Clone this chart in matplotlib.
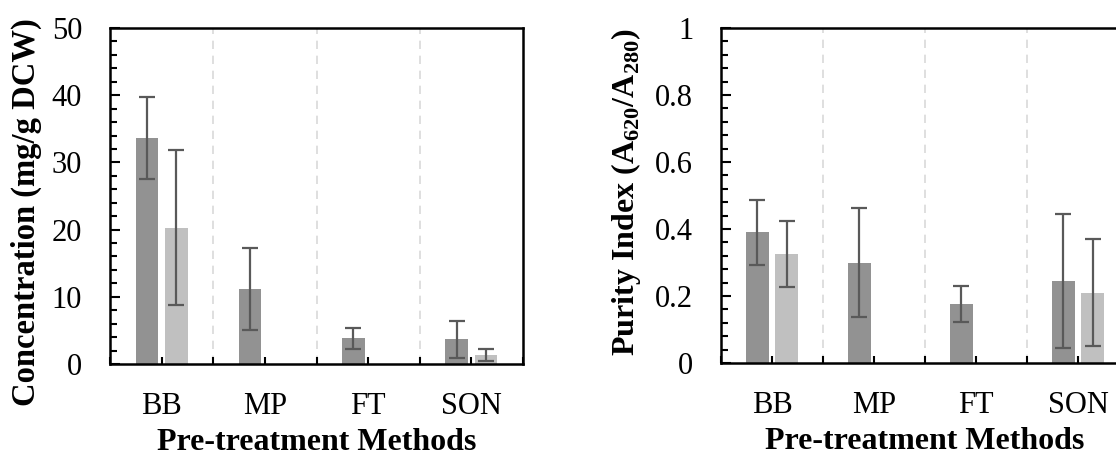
import matplotlib
matplotlib.use("Agg")
import matplotlib.pyplot as plt
import numpy as np
from matplotlib.ticker import MultipleLocator

plt.rcParams['font.family'] = ['Liberation Serif', 'DejaVu Serif']
plt.rcParams['mathtext.fontset'] = 'custom'
plt.rcParams['mathtext.rm'] = 'Liberation Serif'
plt.rcParams['mathtext.bf'] = 'Liberation Serif:bold'

# data
methods = ['BB', 'MP', 'FT', 'SON']
conc_a = [33.7, 11.1, 3.8, 3.7]
conc_a_err = [6.1, 6.1, 1.6, 2.75]
conc_b = [20.3, 0, 0, 1.35]
conc_b_err = [11.5, 0, 0, 0.95]
conc_b_show = [True, False, False, True]

pur_a = [0.391, 0.300, 0.176, 0.245]
pur_a_err = [0.097, 0.162, 0.054, 0.200]
pur_b = [0.325, 0, 0, 0.210]
pur_b_err = [0.099, 0, 0, 0.160]
pur_b_show = [True, False, False, True]

dark = '#929292'
light = '#c0c0c0'
errc = '#595959'

fig = plt.figure(figsize=(11.16, 4.57), dpi=100)
ax1 = fig.add_axes([110/1116, 93/457, 413/1116, 336/457])
ax2 = fig.add_axes([721/1116, 94/457, 408/1116, 335/457])

x = np.arange(len(methods))
w = 0.22
off = 0.143


def draw(ax, a, aerr, b, berr, bshow, ymax, major, minor, ylabel, ysize):
    ax.bar(x - off, a, w, color=dark, zorder=2)
    ax.errorbar(x - off, a, yerr=aerr, fmt='none', ecolor=errc, elinewidth=1.6,
                capsize=6, capthick=1.6, zorder=3)
    xb = x[np.array(bshow)] + off
    bb = np.array(b)[np.array(bshow)]
    be = np.array(berr)[np.array(bshow)]
    ax.bar(xb, bb, w, color=light, zorder=2)
    ax.errorbar(xb, bb, yerr=be, fmt='none', ecolor=errc, elinewidth=1.6,
                capsize=6, capthick=1.6, zorder=3)
    for xv in [0.5, 1.5, 2.5]:
        ax.axvline(xv, color='#d9d9d9', lw=1.2, ls=(0, (5, 4)), zorder=1)
    ax.set_xlim(-0.5, 3.5)
    ax.set_ylim(0, ymax)
    ax.set_xticks(x)
    ax.set_xticklabels(methods)
    ax.set_xticks([-0.5, 0.5, 1.5, 2.5, 3.5], minor=True)
    ax.yaxis.set_major_locator(MultipleLocator(major))
    ax.yaxis.set_minor_locator(MultipleLocator(minor))
    ax.tick_params(axis='both', which='both', direction='in', labelsize=22,
                   width=1.5, pad=20)
    ax.tick_params(axis='y', which='major', length=7)
    ax.tick_params(axis='y', which='minor', length=5)
    ax.tick_params(axis='x', which='both', length=5)
    for s in ax.spines.values():
        s.set_linewidth(1.8)
    ax.set_xlabel('Pre-treatment Methods', fontsize=23, fontweight='bold', labelpad=5)
    ax.set_ylabel(ylabel, fontsize=ysize, fontweight='bold')


draw(ax1, conc_a, conc_a_err, conc_b, conc_b_err, conc_b_show, 50, 10, 2,
     'Concentration (mg/g DCW)', 23.5)
ax1.yaxis.set_label_coords(-0.165, 0.452)
draw(ax2, pur_a, pur_a_err, pur_b, pur_b_err, pur_b_show, 1, 0.2, 0.04,
     r'Purity Index (A$_{\mathbf{620}}$/A$_{\mathbf{280}}$)', 23)
ax2.yaxis.set_label_coords(-0.19, 0.51)
ax2.yaxis.set_major_formatter(lambda v, p: '0' if v == 0 else ('1' if abs(v - 1) < 1e-9 else f'{v:.1f}'))

fig.savefig('out.png', dpi=100)
